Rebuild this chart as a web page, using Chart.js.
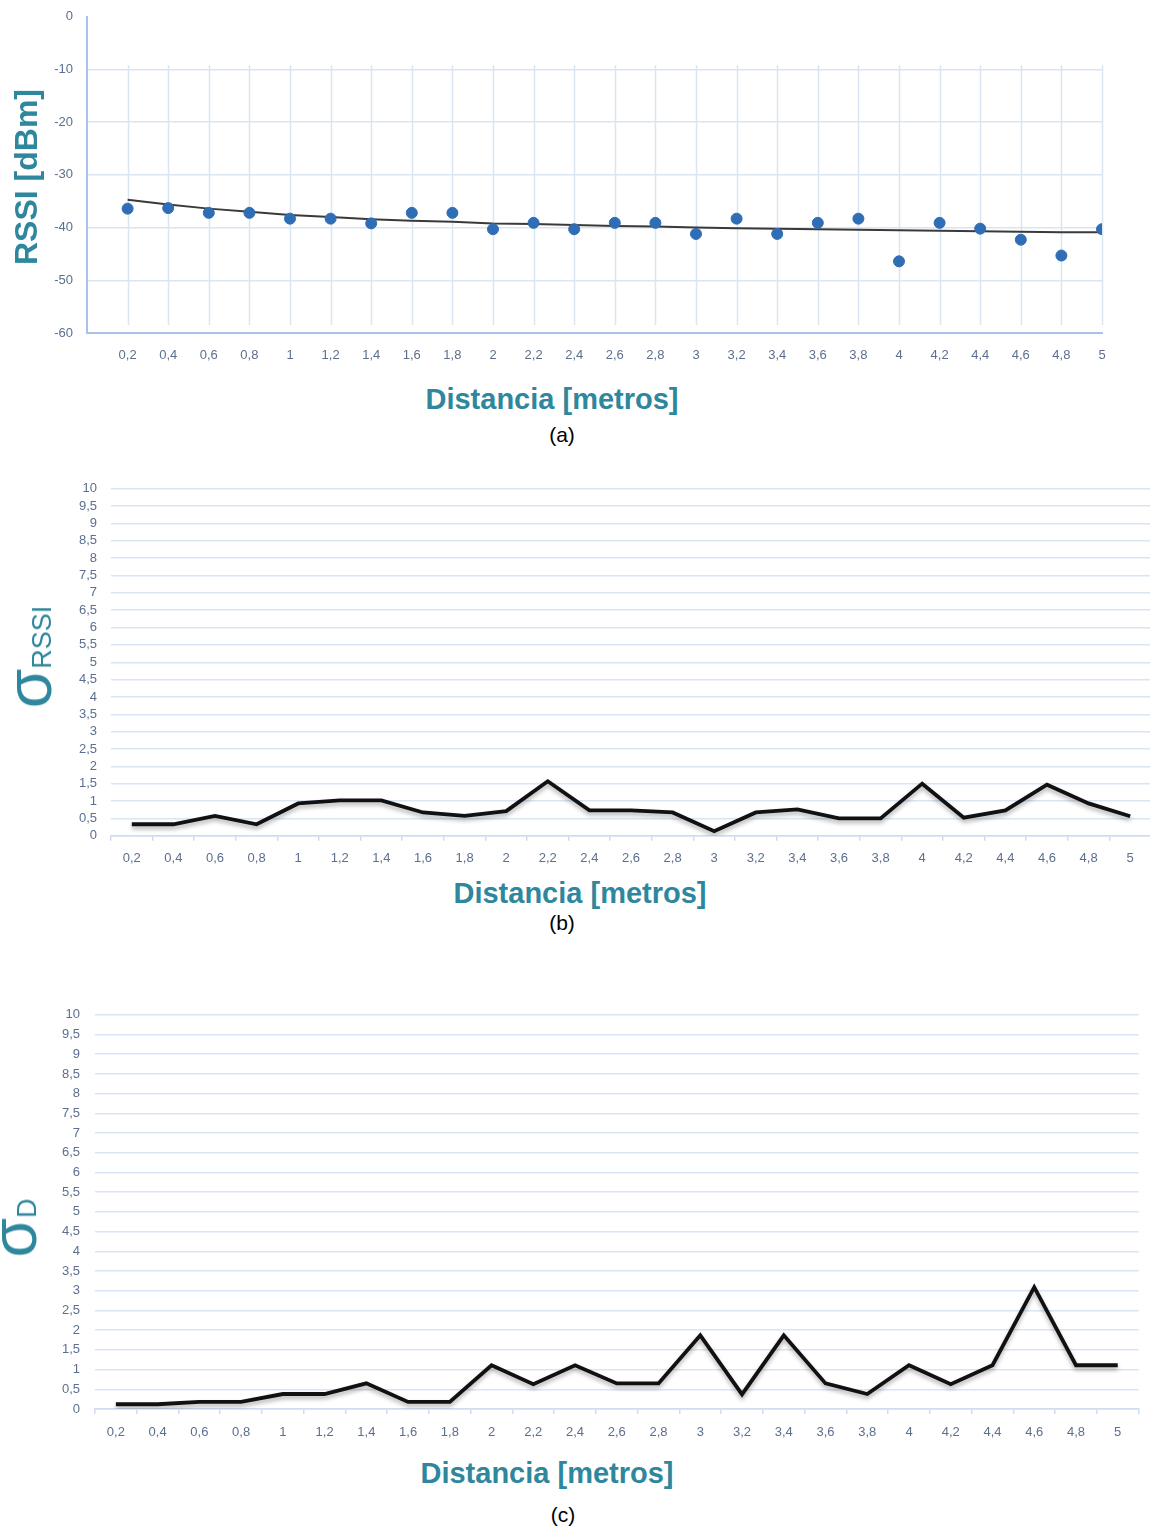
<!DOCTYPE html>
<html>
<head>
<meta charset="utf-8">
<script src="https://cdn.jsdelivr.net/npm/chart.js@4.4.1/dist/chart.umd.min.js"></script>
<style>
  html, body { margin: 0; padding: 0; background: #ffffff; overflow: hidden; }
  body { width: 1150px; height: 1531px; position: relative; }
  canvas { position: absolute; left: 0; }
  .ttl { position: absolute; white-space: nowrap; color: #2E879C; font-family: "Liberation Sans", Arial, sans-serif; transform: translate(-50%, -50%); line-height: 1; }
  .xt { font-weight: bold; font-size: 29px; }
  .yt { font-weight: bold; font-size: 32px; transform: translate(-50%, -50%) rotate(-90deg); }
  .sig { font-size: 64px; line-height: 64px; transform: translate(-50%, -50%) rotate(-90deg); }
  .sig span { font-size: 27px; line-height: 1; }
  .cap { position: absolute; white-space: nowrap; color: #000; font-family: "Liberation Sans", Arial, sans-serif; font-size: 21px; transform: translate(-50%, -50%); line-height: 1; }
</style>
</head>
<body>
<canvas id="cA" width="1150" height="377" style="top:-5px"></canvas>
<canvas id="cB" width="1152" height="403" style="top:467px"></canvas>
<canvas id="cC" width="1152" height="458" style="top:992px"></canvas>

<div class="ttl yt" style="left:26px; top:177px;">RSSI [dBm]</div>
<div class="ttl xt" style="left:552px; top:399px;">Distancia [metros]</div>
<div class="cap" style="left:562px; top:434px;">(a)</div>

<div class="ttl sig" style="left:29px; top:657px;">σ<span>RSSI</span></div>
<div class="ttl xt" style="left:580px; top:893px;">Distancia [metros]</div>
<div class="cap" style="left:562px; top:922px;">(b)</div>

<div class="ttl sig" style="left:14px; top:1228px;">σ<span>D</span></div>
<div class="ttl xt" style="left:547px; top:1473px;">Distancia [metros]</div>
<div class="cap" style="left:563px; top:1514px;">(c)</div>

<script>
// ---------- data ----------
const distances = [0.2, 0.4, 0.6, 0.8, 1.0, 1.2, 1.4, 1.6, 1.8, 2.0, 2.2, 2.4, 2.6, 2.8, 3.0, 3.2, 3.4, 3.6, 3.8, 4.0, 4.2, 4.4, 4.6, 4.8, 5.0];
const categoryLabels = ['0,2','0,4','0,6','0,8','1','1,2','1,4','1,6','1,8','2','2,2','2,4','2,6','2,8','3','3,2','3,4','3,6','3,8','4','4,2','4,4','4,6','4,8','5'];
const rssiMeasured = [-36.4, -36.3, -37.2, -37.2, -38.3, -38.3, -39.2, -37.2, -37.2, -40.3, -39.1, -40.3, -39.1, -39.1, -41.2, -38.3, -41.2, -39.1, -38.3, -46.4, -39.1, -40.2, -42.3, -45.3, -40.3];
const rssiTrend = [-34.7, -35.6, -36.4, -37.0, -37.6, -38.0, -38.4, -38.7, -38.9, -39.2, -39.3, -39.5, -39.7, -39.8, -40.0, -40.1, -40.2, -40.3, -40.4, -40.5, -40.6, -40.7, -40.8, -40.9, -40.9];
const sigmaRssi = [0.33, 0.33, 0.57, 0.33, 0.93, 1.02, 1.02, 0.67, 0.57, 0.71, 1.57, 0.73, 0.73, 0.67, 0.13, 0.67, 0.76, 0.50, 0.50, 1.50, 0.52, 0.73, 1.47, 0.93, 0.56];
const sigmaD = [0.12, 0.12, 0.18, 0.18, 0.38, 0.38, 0.65, 0.18, 0.18, 1.11, 0.63, 1.11, 0.65, 0.65, 1.87, 0.37, 1.87, 0.65, 0.38, 1.11, 0.63, 1.11, 3.09, 1.11, 1.11];

// ---------- styles ----------
const tickColor = '#5C6F8E';
const tickFont = { family: '"Liberation Sans", Arial, sans-serif', size: 13 };
const gridColor = '#DAE5F4';
const axisColor = '#A9C3E8';
const fmt = v => String(Math.round(v * 10) / 10).replace('.', ',');

const shadowPlugin = {
  id: 'lineShadow',
  beforeDatasetDraw(chart) {
    const ctx = chart.ctx;
    ctx.save();
    ctx.shadowColor = 'rgba(0,0,0,0.30)';
    ctx.shadowBlur = 4;
    ctx.shadowOffsetX = 0;
    ctx.shadowOffsetY = 3;
  },
  afterDatasetDraw(chart) { chart.ctx.restore(); }
};

// short vertical grid lines (Excel-style) for chart (a), from the scales
const shortVGrid = {
  id: 'shortVGrid',
  beforeDatasetsDraw(chart) {
    const { ctx, scales: { x, y } } = chart;
    const yTop = y.getPixelForValue(-9.2);
    const yBot = y.getPixelForValue(-58.5);
    ctx.save();
    ctx.strokeStyle = gridColor;
    ctx.lineWidth = 1.5;
    x.ticks.forEach(t => {
      if (Math.abs(t.value) < 1e-9) return;
      const px = Math.round(x.getPixelForValue(t.value)) + 0.5;
      ctx.beginPath();
      ctx.moveTo(px, yTop);
      ctx.lineTo(px, yBot);
      ctx.stroke();
    });
    ctx.restore();
  }
};

Chart.defaults.font.family = '"Liberation Sans", Arial, sans-serif';

// ---------- chart (a) ----------
new Chart(document.getElementById('cA'), {
  type: 'scatter',
  data: {
    datasets: [
      {
        type: 'scatter',
        label: 'RSSI',
        data: distances.map((d, i) => ({ x: d, y: rssiMeasured[i] })),
        backgroundColor: '#2F6DB5',
        borderColor: '#2F6DB5',
        pointRadius: 5.5,
        order: 1
      },
      {
        type: 'line',
        label: 'Tendencia',
        data: distances.map((d, i) => ({ x: d, y: rssiTrend[i] })),
        borderColor: '#3A3A3A',
        borderWidth: 2,
        pointRadius: 0,
        tension: 0,
        fill: false,
        order: 2
      }
    ]
  },
  options: {
    responsive: false,
    animation: false,
    layout: { padding: { top: 0, right: 48, left: 0, bottom: 0 } },
    plugins: { legend: { display: false }, tooltip: { enabled: false } },
    scales: {
      x: {
        type: 'linear',
        min: 0, max: 5,
        afterFit: s => { s.height = 39; },
        ticks: {
          stepSize: 0.2, autoSkip: false, maxRotation: 0, padding: 15,
          color: tickColor, font: tickFont,
          callback: v => (Math.abs(v) < 1e-9 ? '' : fmt(v))
        },
        grid: { drawOnChartArea: false, drawTicks: false },
        border: { color: axisColor, width: 2 }
      },
      y: {
        min: -60, max: 0,
        afterFit: s => { s.width = 87; },
        ticks: { stepSize: 10, padding: 14, color: tickColor, font: tickFont },
        grid: {
          drawTicks: false, lineWidth: 1.5,
          color: c => (c.tick && c.tick.value === 0 ? 'rgba(0,0,0,0)' : gridColor)
        },
        border: { color: axisColor, width: 2 }
      }
    }
  },
  plugins: [shortVGrid]
});

// ---------- helper for (b) and (c) ----------
function sigmaChart(id, values, padRight, leftW, xH, xPad, yPad) {
  return new Chart(document.getElementById(id), {
    type: 'line',
    data: {
      labels: categoryLabels,
      datasets: [{
        data: values,
        borderColor: '#111111',
        borderWidth: 3.8,
        pointRadius: 0,
        tension: 0,
        fill: false
      }]
    },
    options: {
      responsive: false,
      animation: false,
      layout: { padding: { top: 0, right: padRight, left: 0, bottom: 0 } },
      plugins: { legend: { display: false }, tooltip: { enabled: false } },
      scales: {
        x: {
          type: 'category',
          offset: true,
          afterFit: s => { s.height = xH; },
          ticks: { autoSkip: false, maxRotation: 0, padding: xPad, color: tickColor, font: tickFont },
          grid: { offset: true, drawOnChartArea: false, drawTicks: true, tickLength: 5, color: '#CFDCF0', lineWidth: 1.5 },
          border: { color: '#CFDCF0', width: 1.5 }
        },
        y: {
          min: 0, max: 10,
          afterFit: s => { s.width = leftW; },
          ticks: { stepSize: 0.5, autoSkip: false, padding: yPad, color: tickColor, font: tickFont, callback: v => fmt(v) },
          grid: { drawTicks: false, color: gridColor, lineWidth: 1.5 },
          border: { display: false }
        }
      }
    },
    plugins: [shadowPlugin]
  });
}

sigmaChart('cB', sigmaRssi, 1, 111, 34.3, 9.5, 14);
sigmaChart('cC', sigmaD, 13.4, 95, 41, 11, 15);
</script>
</body>
</html>
